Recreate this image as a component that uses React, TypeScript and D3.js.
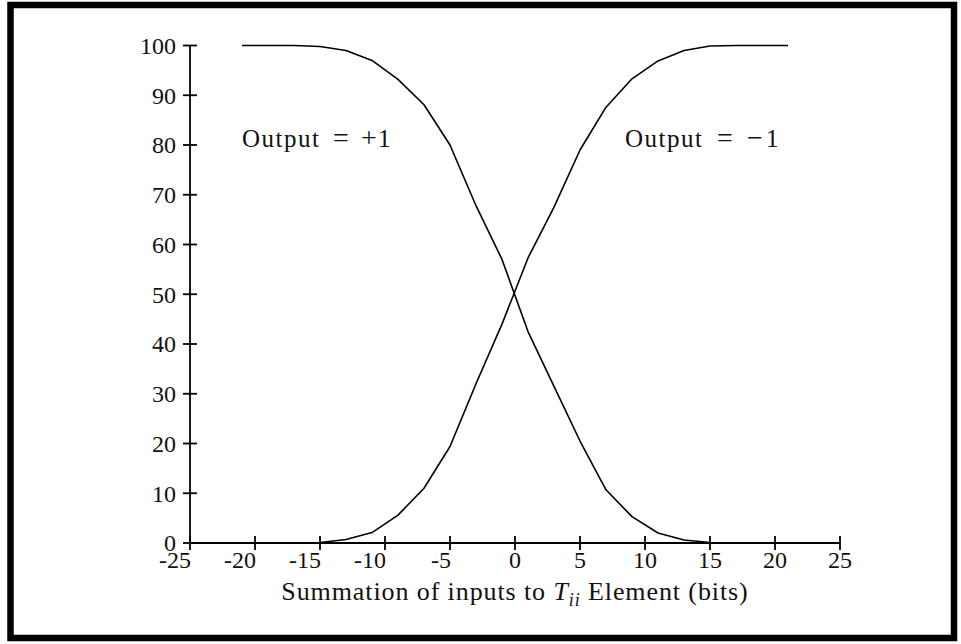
import React from "react";
import * as d3 from "d3";

// Summed input (bits) at which each probability was measured
const inputs = [-21, -19, -17, -15, -13, -11, -9, -7, -5, -3, -1, 1, 3, 5, 7, 9, 11, 13, 15, 17, 19, 21];
// Percentage of trials giving output +1
const outputPlus = [100, 100, 100, 99.8, 99.0, 97.0, 93.2, 88.1, 80.0, 67.8, 57.0, 42.5, 31.5, 20.5, 10.7, 5.3, 2.0, 0.6, 0.1, 0, 0, 0];
// Percentage of trials giving output -1
const outputMinus = [0, 0, 0, 0.1, 0.7, 2.1, 5.6, 11.0, 19.4, 32.0, 44.0, 57.3, 67.5, 79.0, 87.6, 93.3, 96.9, 99.0, 99.9, 100, 100, 100];

const xTicks = [-25, -20, -15, -10, -5, 0, 5, 10, 15, 20, 25];
const yTicks = [0, 10, 20, 30, 40, 50, 60, 70, 80, 90, 100];

const W = 961;
const H = 644;
const FONT = "'Liberation Serif', 'DejaVu Serif', serif";

export default function App() {
  const x = d3.scaleLinear().domain([-25, 25]).range([190, 840]);
  const y = d3.scaleLinear().domain([0, 100]).range([543, 45.5]);

  const line = d3
    .line<[number, number]>()
    .x((d) => x(d[0]))
    .y((d) => y(d[1]));

  const plusPts = inputs.map((v, i) => [v, outputPlus[i]] as [number, number]);
  const minusPts = inputs.map((v, i) => [v, outputMinus[i]] as [number, number]);

  const labelY = y(80) + 2;

  return (
    <svg
      width={W}
      height={H}
      style={{ position: "absolute", left: 0, top: 0, background: "#fff" }}
      fontFamily={FONT}
      fill="#111"
    >
      <rect x={10.5} y={5} width={943.5} height={633} fill="none" stroke="#000" strokeWidth={6.5} />

      {/* axes */}
      <line x1={x(-25)} x2={x(-25)} y1={y(0)} y2={y(100)} stroke="#000" strokeWidth={1.8} />
      <line x1={x(-25)} x2={x(25)} y1={y(0)} y2={y(0)} stroke="#000" strokeWidth={1.8} />

      {yTicks.map((t) => (
        <g key={"y" + t}>
          <line x1={x(-25) - 7} x2={x(-25) + 7} y1={y(t)} y2={y(t)} stroke="#000" strokeWidth={1.8} />
          <text x={x(-25) - 14} y={y(t)} dy="0.35em" textAnchor="end" fontSize={24}>
            {t}
          </text>
        </g>
      ))}

      {xTicks.map((t) => (
        <g key={"x" + t}>
          <line x1={x(t)} x2={x(t)} y1={y(0) - 7} y2={y(0) + 7} stroke="#000" strokeWidth={1.8} />
          <text
            x={t < 0 ? x(t) + 1 : x(t)}
            y={y(0) + 25}
            textAnchor={t < 0 ? "end" : "middle"}
            fontSize={24}
          >
            {t}
          </text>
        </g>
      ))}

      <path d={line(plusPts) || ""} fill="none" stroke="#000" strokeWidth={1.6} strokeLinejoin="round" />
      <path d={line(minusPts) || ""} fill="none" stroke="#000" strokeWidth={1.6} strokeLinejoin="round" />

      <text y={labelY} fontSize={25}>
        <tspan x={242} letterSpacing={1.5}>Output</tspan>
        <tspan x={333} fontSize={28}>=</tspan>
        <tspan x={361} fontSize={28}>+</tspan>
        <tspan x={378}>1</tspan>
      </text>
      <text y={labelY} fontSize={25}>
        <tspan x={625} letterSpacing={1.5}>Output</tspan>
        <tspan x={717} fontSize={28}>=</tspan>
        <tspan x={747} fontSize={28}>−</tspan>
        <tspan x={766}>1</tspan>
      </text>

      <text x={515} y={600} textAnchor="middle" fontSize={26} letterSpacing={0.9}>
        Summation of inputs to{" "}
        <tspan fontStyle="italic">T</tspan>
        <tspan fontStyle="italic" fontSize={18} dy={6}>
          ii
        </tspan>
        <tspan dy={-6}> Element (bits)</tspan>
      </text>
    </svg>
  );
}
